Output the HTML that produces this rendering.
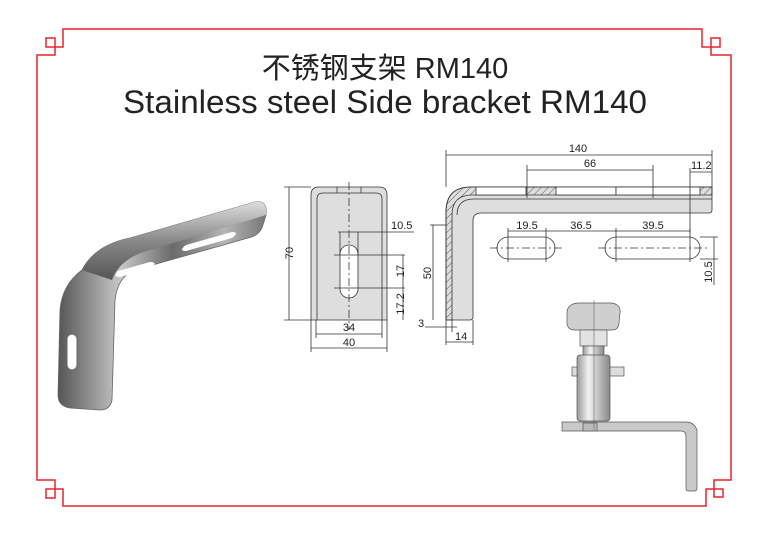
<!DOCTYPE html>
<html><head><meta charset="utf-8"><style>
html,body{margin:0;padding:0;background:#fff;}
svg{display:block;}
text{font-family:"Liberation Sans","Noto Sans CJK SC",sans-serif;}
</style></head><body>
<svg width="765" height="533" viewBox="0 0 765 533" xmlns="http://www.w3.org/2000/svg">
<defs>
<linearGradient id="mg" x1="0" y1="0" x2="1" y2="0">
<stop offset="0" stop-color="#555"/><stop offset="0.3" stop-color="#c8c8c8"/><stop offset="0.55" stop-color="#6a6a6a"/><stop offset="0.8" stop-color="#b5b5b5"/><stop offset="1" stop-color="#777"/></linearGradient>
<linearGradient id="mg2" x1="0" y1="0" x2="0" y2="1">
<stop offset="0" stop-color="#ddd"/><stop offset="0.5" stop-color="#888"/><stop offset="1" stop-color="#555"/></linearGradient>
<linearGradient id="cyl" x1="0" y1="0" x2="1" y2="0">
<stop offset="0" stop-color="#999"/><stop offset="0.35" stop-color="#f2f2f2"/><stop offset="1" stop-color="#888"/></linearGradient>
<pattern id="hat" width="5" height="5" patternUnits="userSpaceOnUse" patternTransform="rotate(45)"><line x1="0" y1="0" x2="0" y2="5" stroke="#333" stroke-width="0.8"/></pattern>
</defs>
<!-- border -->
<g fill="none" stroke="#e8242a" stroke-width="1.5">
<path d="M37 480 V55 H55 V47 H63 V29 H702 V47 H711 V55 H731 V480 H714 V489 H706 V506 H63 V489 H55 V480 Z" />
<rect x="46" y="38" width="9" height="9"/>
<rect x="711" y="38" width="9" height="9"/>
<rect x="46" y="489" width="9" height="9"/>
<rect x="714" y="489" width="9" height="8"/>
</g>
<!-- titles -->
<text x="385" y="78" font-size="29" text-anchor="middle" fill="#222">不锈钢支架 RM140</text>
<text x="385" y="113" font-size="32" text-anchor="middle" fill="#222" textLength="524" lengthAdjust="spacingAndGlyphs">Stainless steel Side bracket RM140</text>

<!-- photo bracket -->
<path d="M82 270 Q95 245 130 238 L255 202 Q268 200 266 215 L262 228 Q258 236 248 238 L135 270 Q118 276 115 300 L112 400 Q110 410 100 410 L70 408 Q58 406 58 395 L60 310 Q62 285 82 270 Z" fill="url(#mg)" stroke="#666" stroke-width="0.8"/>
<path d="M82 270 Q95 245 130 238 L255 202 Q268 200 266 215 L150 250 Q120 258 112 280 Z" fill="url(#mg2)"/>
<path d="M118 271 L150 262 Q158 262 152 268 L120 277 Q112 277 118 271 Z" fill="#fff"/>
<path d="M186 245 L232 232 Q240 232 232 238 L186 251 Q178 251 186 245 Z" fill="#fff"/>
<rect x="67" y="334" width="10" height="36" rx="5" fill="#fff" stroke="#666"/>

<!-- front view -->
<g stroke="#333" stroke-width="0.8" fill="none">
<path d="M311 320 V195 Q311 187 319 187 H379 Q387 187 387 195 V320 Z" fill="#dedede"/>
<path d="M317 320 V199 Q317 193 323 193 H376 Q382 193 382 199 V320"/>
<line x1="337" y1="187" x2="337" y2="193"/><line x1="361" y1="187" x2="361" y2="193"/>
<rect x="340" y="245" width="18" height="53" rx="9" fill="#fff"/>
<line x1="349" y1="182" x2="349" y2="330" stroke-dasharray="8,3,2,3"/>
<line x1="289" y1="187" x2="289" y2="320"/><line x1="284" y1="187" x2="311" y2="187"/><line x1="284" y1="320" x2="311" y2="320"/>
<line x1="316" y1="334" x2="382" y2="334"/><line x1="311" y1="348" x2="387" y2="348"/>
<line x1="311" y1="320" x2="311" y2="352"/><line x1="387" y1="320" x2="387" y2="352"/>
<line x1="316" y1="320" x2="316" y2="338"/><line x1="382" y1="320" x2="382" y2="338"/>
<line x1="338" y1="232" x2="414" y2="232"/>
<line x1="340" y1="232" x2="340" y2="255"/><line x1="358" y1="232" x2="358" y2="255"/>
<line x1="334" y1="255" x2="405" y2="255"/><line x1="334" y1="288" x2="405" y2="288"/>
<line x1="403" y1="255" x2="403" y2="320"/>
</g>
<g font-size="11" fill="#222">
<text x="287" y="259" transform="rotate(-90 287 253)" text-anchor="middle">70</text>
<text x="349" y="331" text-anchor="middle">34</text>
<text x="349" y="346" text-anchor="middle">40</text>
<text x="391" y="229">10.5</text>
<text x="404" y="271" transform="rotate(-90 404 271)" text-anchor="middle">17</text>
<text x="404" y="304" transform="rotate(-90 404 304)" text-anchor="middle">17.2</text>
</g>

<!-- side view -->
<g stroke="#333" stroke-width="0.8" fill="none">
<path d="M446 320 V212 Q446 187 471 187 H712 V210 Q712 213 709 213 H481 Q473 213 473 221 V317 Q473 320 470 320 Z" fill="#dedede"/>
<path d="M446 212 Q446 187 471 187 H712 V195 H472 Q452 195 452 215 V320 H446 Z" fill="url(#hat)"/>
<rect x="476" y="187" width="50" height="8" fill="#fff"/>
<rect x="556" y="187" width="60" height="8" fill="#fff"/>
<rect x="616" y="187" width="84" height="8" fill="#fff"/>
<path d="M457 215 Q457 199 474 199 H712"/>
<line x1="446" y1="150" x2="446" y2="187"/><line x1="712" y1="150" x2="712" y2="187"/>
<line x1="446" y1="155" x2="712" y2="155"/>
<line x1="527" y1="165" x2="527" y2="198"/><line x1="653" y1="165" x2="653" y2="198"/>
<line x1="527" y1="170" x2="653" y2="170"/>
<line x1="690" y1="168" x2="690" y2="233"/><line x1="690" y1="172" x2="712" y2="172"/>
<line x1="433" y1="225" x2="433" y2="320"/><line x1="430" y1="225" x2="446" y2="225"/>
<line x1="425" y1="327" x2="457" y2="327"/>
<line x1="446" y1="320" x2="446" y2="345"/><line x1="452" y1="320" x2="452" y2="332"/><line x1="473" y1="320" x2="473" y2="345"/>
<line x1="446" y1="342" x2="473" y2="342"/>
<rect x="497" y="237" width="58" height="22" rx="11" fill="#fff"/>
<rect x="605" y="237" width="95" height="22" rx="11" fill="#fff"/>
<line x1="490" y1="248" x2="562" y2="248" stroke-dasharray="8,3,2,3"/>
<line x1="598" y1="248" x2="708" y2="248" stroke-dasharray="8,3,2,3"/>
<line x1="508" y1="228" x2="508" y2="262"/><line x1="546" y1="228" x2="546" y2="262"/>
<line x1="616" y1="228" x2="616" y2="262"/><line x1="690" y1="228" x2="690" y2="262"/>
<line x1="508" y1="231" x2="690" y2="231"/>
<line x1="700" y1="237" x2="718" y2="237"/><line x1="700" y1="259" x2="718" y2="259"/>
<line x1="714" y1="237" x2="714" y2="285"/>
</g>
<g font-size="11" fill="#222">
<text x="578" y="152" text-anchor="middle">140</text>
<text x="590" y="167" text-anchor="middle">66</text>
<text x="691" y="169">11.2</text>
<text x="431" y="273" transform="rotate(-90 431 273)" text-anchor="middle">50</text>
<text x="418" y="327">3</text>
<text x="455" y="340">14</text>
<text x="527" y="229" text-anchor="middle">19.5</text>
<text x="581" y="229" text-anchor="middle">36.5</text>
<text x="653" y="229" text-anchor="middle">39.5</text>
<text x="712" y="272" transform="rotate(-90 712 272)" text-anchor="middle">10.5</text>
</g>

<!-- assembly -->
<g stroke="#555" stroke-width="0.7">
<path d="M567 313 Q567 304 578 303 L611 303 Q621 304 620 313 L619 322 Q619 330 612 330 H575 Q567 330 567 322 Z" fill="#cfcfcf"/>
<rect x="580" y="330" width="27" height="16" fill="#e2e2e2"/>
<rect x="583" y="346" width="21" height="10" fill="url(#cyl)"/>
<rect x="572" y="367" width="8" height="9" fill="#ddd"/>
<rect x="609" y="367" width="15" height="9" fill="#ddd"/>
<rect x="577" y="355" width="33" height="66" rx="3" fill="url(#cyl)"/>
<path d="M562 422 H686 Q694 422 697 430 L697 488 Q697 491 694 491 H688 Q686 491 686 488 V436 Q686 431 681 431 H562 Z" fill="#c9c9c9"/>
<rect x="583" y="423" width="14" height="8" fill="#bbb"/>
<line x1="594" y1="300" x2="594" y2="430" stroke-width="0.5"/>
</g>
</svg>
</body></html>
